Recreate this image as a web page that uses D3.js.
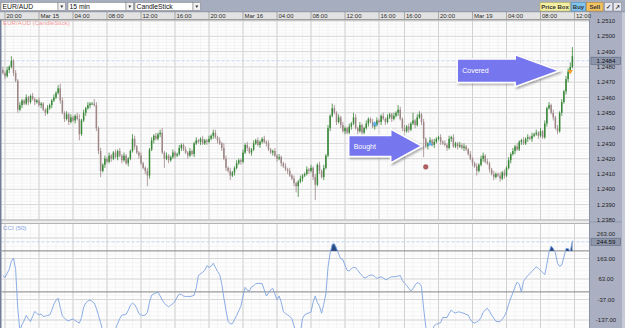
<!DOCTYPE html>
<html>
<head>
<meta charset="utf-8">
<script src="https://cdnjs.cloudflare.com/ajax/libs/d3/7.8.5/d3.min.js"></script>
<style>
  body { margin: 0; background: #fff; overflow: hidden; }
  svg { display: block; }
</style>
</head>
<body>
<div id="chart"></div>
<script>
// EUR/AUD 15 min candles, prices in pips above 1.2400 (open = previous close)
const firstOpen = 78;
const closes = [
  76,74,78,80,84,76,71,52,55,58, 56,60,57,61,59,57,58,55,56,52,
  50,53,55,58,60,63,66,58,50,46, 49,44,47,45,48,46,36,45,50,53,
  55,56,56,55,40,25,12,16,20,18, 22,20,24,21,25,22,19,22,17,20,
  25,33,28,24,22,17,14,12,9,26, 32,35,33,36,37,24,20,22,19,21,
  24,22,23,27,29,26,24,22,25,23, 30,32,31,33,30,32,31,33,35,37,
  34,32,30,27,20,14,12,9,11,14, 17,19,18,24,29,27,24,26,30,32,
  29,31,33,31,30,26,24,25,22,20, 21,17,15,13,12,9,7,4,2,5,
  7,9,10,13,12,14,8,3,16,12, 8,14,22,40,48,53,50,44,47,42,
  38,40,37,41,43,47,40,38,42,37, 40,43,46,44,41,42,45,44,48,46,
  44,47,49,46,48,50,52,46,40,38, 41,39,43,45,42,47,49,44,33,28,
  30,32,29,31,33,34,31,30,29,27, 33,34,28,30,28,29,27,28,26,23,
  20,17,15,12,16,20,22,18,17,13, 10,8,10,9,7,11,9,14,19,23,
  25,28,26,31,32,30,33,34,33,35, 36,37,35,38,34,43,53,55,50,47,
  40,38,50,57,64,72,77,80,87
];
// wick lengths in pips above the body top / below the body bottom
const wickHi = [
  2,1,2,1,3,1,2,1,2,1, 1,2,1,1,2,1,1,2,1,1, 1,2,1,1,2,1,2,3,2,1, 2,1,2,1,1,2,3,1,2,1,
  2,1,1,3,2,1,2,1,2,1, 2,1,1,2,1,2,1,2,1,1, 1,3,2,1,1,2,1,1,2,1, 2,1,2,1,2,3,1,2,1,1,
  2,1,1,2,1,1,2,1,2,1, 1,2,1,1,2,1,1,2,1,2, 2,1,2,1,3,2,1,2,1,1, 2,1,1,2,1,2,1,1,2,1,
  2,1,1,2,1,2,1,1,2,1, 2,1,1,2,1,2,1,2,1,1, 2,1,1,2,1,2,1,2,1,2, 1,2,1,2,1,3,2,1,2,1,
  2,1,1,2,1,3,2,1,2,1, 1,2,1,1,2,1,2,1,1,2, 1,2,1,1,2,1,3,2,1,2, 1,2,1,5,1,2,2,1,2,1,
  1,2,1,2,1,1,2,1,2,1, 2,1,2,1,1,2,1,2,1,1, 2,1,1,2,1,2,2,1,2,1, 1,2,1,1,2,1,2,1,2,1,
  2,1,2,1,1,2,1,2,1,2, 1,2,1,2,1,2,1,2,1,2, 1,2,1,2,1,2,2,3,6
];
const wickLo = [
  1,2,1,2,1,2,1,2,1,2, 1,1,2,1,1,2,1,1,2,1, 2,1,1,2,1,1,1,2,1,2, 1,2,1,1,2,1,4,1,1,2,
  1,2,1,1,2,2,4,1,2,1, 1,2,1,1,2,1,2,1,1,2, 1,1,2,1,2,1,1,2,7,2, 1,2,1,1,2,1,6,1,2,1,
  1,2,1,1,2,1,1,2,1,1, 2,1,1,2,1,1,2,1,1,2, 1,2,1,2,1,2,1,3,1,2, 1,1,2,1,1,2,1,2,1,1,
  1,2,1,1,2,1,1,2,1,2, 1,2,1,1,2,1,1,2,4,7, 1,2,1,1,2,1,2,10,1,2, 1,2,1,1,2,1,1,2,1,2,
  1,2,1,1,2,1,1,2,1,2, 1,1,2,1,1,2,1,1,2,1, 2,1,1,2,1,1,2,1,2,1, 1,2,1,1,2,1,1,2,12,1,
  2,1,1,2,1,1,2,1,1,2, 1,2,1,1,2,1,1,2,1,1, 1,2,1,3,1,1,2,1,1,2, 1,2,1,1,2,1,2,1,1,2,
  1,2,1,1,2,1,1,2,1,2, 1,1,2,1,1,1,2,1,1,2, 1,2,1,2,1,2,2,1,1
];
// CCI (50), one value per candle
const cci = [
  80,70,90,110,150,165,110,-80,-190,-160, -140,-115,-130,-145,-120,-95,-105,-112,-108,-120,
  -118,-115,-113,-90,-60,-40,-31,-75,-118,-128, -137,-142,-135,-132,-140,-146,-152,-125,-75,-54,
  -45,-39,-46,-54,-80,-115,-150,-190,-210,-220, -215,-205,-195,-180,-155,-130,-113,-112,-109,-90,
  -65,-55,-62,-80,-105,-113,-115,-113,-100,-50, -16,-10,-6,-2,-20,-40,-55,-65,-72,-65,
  -57,-45,-25,-10,-12,-20,-23,-22,-23,-20, -16,20,80,88,96,105,128,120,125,140,
  120,100,85,40,-30,-90,-145,-155,-155,-135, -115,-92,-70,-20,22,8,5,24,30,40,
  42,42,40,10,-20,-5,10,17,-10,-38, -20,-50,-96,-105,-112,-120,-130,-165,-200,-210,
  -200,-130,-112,-106,-103,-98,-50,-20,-52,-70, -104,-60,-10,120,190,233,235,214,185,162,
  157,130,105,102,114,120,118,105,92,80, 68,70,78,82,82,75,66,70,74,68,
  60,62,70,74,74,74,78,80,56,42, 32,18,5,15,34,45,42,26,-80,-170,
  -195,-210,-190,-165,-158,-154,-150,-124,-125,-125, -105,-88,-98,-103,-98,-98,-102,-104,-110,-113,
  -135,-147,-152,-147,-140,-125,-100,-87,-80,-95, -113,-128,-143,-145,-145,-133,-118,-96,-60,-30,
  -5,25,48,38,0,52,66,80,90,100, 112,122,115,105,95,84,135,195,224,212,
  190,140,125,131,170,212,212,198,250
];

const timeTickIdx = [1,17,33,49,65,81,97,113,129,145,161,177,189,205,221,237,253,269];
const timeTickLabels = ["20:00","Mar 15","04:00","08:00","12:00","16:00","20:00","Mar 16","04:00",
  "08:00","12:00","16:00","16:00","20:00","Mar 19","04:00","08:00","12:00"];
const priceTicks = [1.2380,1.2390,1.2400,1.2410,1.2420,1.2430,1.2440,1.2450,1.2460,1.2470,1.2480,1.2490,1.2500,1.2510];
const cciTicks = [-137,-37,63,163,263];
const cciLevels = [0, 200];
const lastPrice = 1.2484;
const lastCci = 244.59;

// trade markers: candle index, price in pips, kind
const tradeIdx = [175, 201, 199, 267];
const tradePips = [42.7, 29.6, 14.6, 77];
const tradeKind = ["buy", "buy", "stop", "cover"];

// annotation arrows: text and the point the tip sits on
const noteText = ["Bought", "Covered"];
const noteTipIdx = [197.1, 261.8];
const noteTipPips = [28.3, 77.5];

const W = 625, H = 328;
const plotL = 1.5, plotR = 589.5;
const mainTop = 20, mainBot = 220;
const cciTop = 223.5, cciBot = 328;
const upCol = "#3a873a", downCol = "#9e8686";
const font = "'Liberation Sans', Arial, sans-serif";

const svg = d3.select("#chart").append("svg")
  .attr("width", W).attr("height", H)
  .style("font-family", font);

const x = d3.scaleLinear().domain([0, 268]).range([2.875, 572.375]);
const y = d3.scaleLinear().domain([1.24, 1.25]).range([189.3, 36.3]);
const yc = d3.scaleLinear().domain([-137, 263]).range([320, 238]);
const px = p => 1.24 + p / 10000;

const defs = svg.append("defs");
defs.append("clipPath").attr("id", "mainClip").append("rect")
  .attr("x", plotL).attr("y", mainTop).attr("width", plotR - plotL).attr("height", mainBot - mainTop);
defs.append("clipPath").attr("id", "cciClip").append("rect")
  .attr("x", plotL).attr("y", cciTop).attr("width", plotR - plotL).attr("height", cciBot - cciTop);
defs.append("clipPath").attr("id", "fillClip").append("rect")
  .attr("x", plotL).attr("y", cciTop).attr("width", plotR - plotL).attr("height", yc(cciLevels[1]) - cciTop);
let shadow = defs.append("filter").attr("id", "shadow")
  .attr("x", "-20%").attr("y", "-30%").attr("width", "150%").attr("height", "170%");
shadow.append("feDropShadow").attr("dx", 1.5).attr("dy", 1.5).attr("stdDeviation", 1)
  .attr("flood-color", "#000").attr("flood-opacity", 0.35);

// backgrounds
svg.append("rect").attr("width", W).attr("height", H).attr("fill", "#fdfdfd");

// minor grid
let grid = svg.append("g");
let minorX = d3.range(-3, 272, 4);
[[mainTop, mainBot], [cciTop, cciBot]].forEach(([t, b]) => {
  grid.append("g").selectAll("line").data(minorX).join("line")
    .attr("x1", d => x(d)).attr("x2", d => x(d)).attr("y1", t).attr("y2", b)
    .attr("stroke", "#efefef").attr("stroke-width", 0.6);
});
grid.append("g").selectAll("line").data(d3.range(1.2378, 1.2512, 0.0002)).join("line")
  .attr("x1", plotL).attr("x2", plotR).attr("y1", d => y(d)).attr("y2", d => y(d))
  .attr("stroke", "#f0f0f0").attr("stroke-width", 0.6);
grid.append("g").selectAll("line").data(d3.range(-177, 290, 20)).join("line")
  .attr("x1", plotL).attr("x2", plotR).attr("y1", d => yc(d)).attr("y2", d => yc(d))
  .attr("stroke", "#f0f0f0").attr("stroke-width", 0.6);

// major grid
[[mainTop, mainBot], [cciTop, cciBot]].forEach(([t, b]) => {
  grid.append("g").selectAll("line").data(timeTickIdx).join("line")
    .attr("x1", d => x(d)).attr("x2", d => x(d)).attr("y1", t).attr("y2", b)
    .attr("stroke", "#d2d2d2").attr("stroke-width", 1);
});
grid.append("g").selectAll("line").data(priceTicks).join("line")
  .attr("x1", plotL).attr("x2", plotR).attr("y1", d => y(d)).attr("y2", d => y(d))
  .attr("stroke", "#d8d8d8").attr("stroke-width", 1);
grid.append("g").selectAll("line").data(cciTicks).join("line")
  .attr("x1", plotL).attr("x2", plotR).attr("y1", d => yc(d)).attr("y2", d => yc(d))
  .attr("stroke", "#d8d8d8").attr("stroke-width", 1);

// last price dashed line
svg.append("line").attr("x1", plotL).attr("x2", plotR)
  .attr("y1", y(lastPrice)).attr("y2", y(lastPrice))
  .attr("stroke", "#b9d0f2").attr("stroke-dasharray", "3,2").attr("stroke-width", 0.8);

// candles
const candles = closes.map((c, i) => {
  const o = i ? closes[i - 1] : firstOpen;
  return { i, o, c, h: Math.max(o, c) + wickHi[i], l: Math.min(o, c) - wickLo[i] };
});
let cg = svg.append("g").attr("clip-path", "url(#mainClip)");
cg.selectAll("line").data(candles).join("line")
  .attr("x1", d => x(d.i)).attr("x2", d => x(d.i))
  .attr("y1", d => y(px(d.h))).attr("y2", d => y(px(d.l)))
  .attr("stroke", d => d.c >= d.o ? upCol : downCol).attr("stroke-width", 0.8);
cg.selectAll("rect").data(candles).join("rect")
  .attr("x", d => x(d.i) - 0.75).attr("width", 1.5)
  .attr("y", d => y(px(Math.max(d.o, d.c))))
  .attr("height", d => Math.max(0.8, Math.abs(y(px(d.o)) - y(px(d.c)))))
  .attr("fill", d => d.c >= d.o ? upCol : downCol);

// trade markers
tradeIdx.forEach((ti, k) => {
  let mx = x(ti), my = y(px(tradePips[k]));
  if (tradeKind[k] === "stop") {
    svg.append("circle").attr("cx", mx).attr("cy", my).attr("r", 2.4)
      .attr("fill", "#b26060").attr("stroke", "#8a4444").attr("stroke-width", 0.4);
  } else {
    svg.append("path").attr("d", d3.symbol(d3.symbolTriangle, 12)())
      .attr("transform", `translate(${mx},${my}) rotate(${tradeKind[k] === "cover" ? 180 : 0})`)
      .attr("fill", tradeKind[k] === "cover" ? "#f2a22c" : "#5ab0ee");
  }
});

// CCI panel
let ccg = svg.append("g").attr("clip-path", "url(#cciClip)");
ccg.selectAll("line.lvl").data(cciLevels).join("line")
  .attr("x1", plotL).attr("x2", plotR).attr("y1", d => yc(d)).attr("y2", d => yc(d))
  .attr("stroke", "#858585").attr("stroke-width", 1);
ccg.append("line").attr("x1", plotL).attr("x2", plotR)
  .attr("y1", yc(lastCci)).attr("y2", yc(lastCci))
  .attr("stroke", "#b9d0f2").attr("stroke-dasharray", "3,2").attr("stroke-width", 0.8);
ccg.append("path").datum(cci)
  .attr("clip-path", "url(#fillClip)")
  .attr("d", d3.area().x((d, i) => x(i)).y0(yc(cciLevels[1])).y1(d => yc(d)))
  .attr("fill", "#2b4c86");
ccg.append("path").datum(cci)
  .attr("d", d3.line().x((d, i) => x(i)).y(d => yc(d)))
  .attr("fill", "none").attr("stroke", "#7ea4e2").attr("stroke-width", 0.9);

// panel separators
svg.append("rect").attr("x", 0).attr("y", mainBot).attr("width", plotR).attr("height", cciTop - mainBot)
  .attr("fill", "#ececec");
[mainBot, cciTop].forEach(v => svg.append("line").attr("x1", 0).attr("x2", plotR)
  .attr("y1", v).attr("y2", v).attr("stroke", "#b4b4b4").attr("stroke-width", 1));

svg.append("text").attr("x", 3).attr("y", 25).attr("font-size", 6.2).attr("fill", "#f29a9a")
  .text("EUR/AUD (CandleStick)");
svg.append("text").attr("x", 3).attr("y", 230).attr("font-size", 6.2).attr("fill", "#84a6de")
  .text("CCI (50)");

// annotation arrows
const arrowShape = [
  { headLen: 31, bodyLen: 42, bodyH: 10.5, headH: 17 },
  { headLen: 44, bodyLen: 58, bodyH: 11.7, headH: 16 }
];
noteText.forEach((t, k) => {
  let tx = x(noteTipIdx[k]), ty = y(px(noteTipPips[k])), s = arrowShape[k];
  let bx = tx - s.headLen, lx = bx - s.bodyLen;
  let pts = [[tx, ty], [bx, ty - s.headH], [bx, ty - s.bodyH], [lx, ty - s.bodyH],
    [lx, ty + s.bodyH], [bx, ty + s.bodyH], [bx, ty + s.headH]];
  svg.append("path").attr("d", "M" + pts.join("L") + "Z")
    .attr("fill", "#7676ee").attr("stroke", "#fff").attr("stroke-width", 1.5)
    .attr("stroke-linejoin", "miter").attr("filter", "url(#shadow)");
  svg.append("text").attr("x", lx + 5).attr("y", ty + 2.5)
    .attr("font-size", 7).attr("fill", "#fff").text(t);
});

// left edge
svg.append("rect").attr("x", 0).attr("y", 12).attr("width", 1.5).attr("height", H - 12).attr("fill", "#737c96");

// right axis panel
svg.append("rect").attr("x", plotR).attr("y", 12).attr("width", W - plotR).attr("height", H - 12)
  .attr("fill", "#aab0c2");
svg.append("line").attr("x1", plotR).attr("x2", plotR).attr("y1", 12).attr("y2", H)
  .attr("stroke", "#8c93a6").attr("stroke-width", 1);
svg.append("rect").attr("x", 622).attr("y", 12).attr("width", 3).attr("height", H - 12).attr("fill", "#c6cad6");
svg.append("line").attr("x1", plotR).attr("x2", 622).attr("y1", cciTop - 1.5).attr("y2", cciTop - 1.5)
  .attr("stroke", "#8c93a6").attr("stroke-width", 0.8);

let ax = svg.append("g").attr("font-size", 6).attr("fill", "#1e1e1e").attr("text-anchor", "middle");
ax.selectAll("text.p").data(priceTicks.filter(d => y(d) < mainBot + 1)).join("text")
  .attr("x", 606).attr("y", d => y(d) + 2.1).text(d => d.toFixed(4));
// the top CCI label sits just above the last-value box, as in the reference
ax.selectAll("text.c").data(cciTicks).join("text")
  .attr("x", 606).attr("y", d => (d === cciTicks[cciTicks.length - 1] ? yc(d) - 4.4 : yc(d)) + 2.1)
  .text(d => d.toFixed(2));

[[y(lastPrice), lastPrice.toFixed(4)], [yc(lastCci), lastCci.toFixed(2)]].forEach(([v, t]) => {
  svg.append("rect").attr("x", 591).attr("y", v - 3.6).attr("width", 29.5).attr("height", 7.2)
    .attr("fill", "#8e96ac").attr("stroke", "#5d6579").attr("stroke-width", 0.6);
  svg.append("text").attr("x", 606).attr("y", v + 2.2).attr("font-size", 6.2)
    .attr("text-anchor", "middle").attr("fill", "#111").text(t);
});

// time axis row
svg.append("rect").attr("x", 0).attr("y", 12).attr("width", plotR).attr("height", 7.8).attr("fill", "#e2e2e2");
svg.append("line").attr("x1", 0).attr("x2", plotR).attr("y1", 19.8).attr("y2", 19.8)
  .attr("stroke", "#7e7e7e").attr("stroke-width", 1);
let tg = svg.append("g");
tg.selectAll("line").data(timeTickIdx.filter(d => x(d) < plotR)).join("line")
  .attr("x1", d => x(d)).attr("x2", d => x(d)).attr("y1", 12).attr("y2", 19.5)
  .attr("stroke", "#9a9a9a").attr("stroke-width", 0.8);
tg.selectAll("text").data(timeTickIdx).join("text")
  .attr("x", d => x(d) + 1.5).attr("y", 18.2).attr("font-size", 6).attr("fill", "#2a2a2a")
  .text((d, i) => timeTickLabels[i]);

// toolbar
svg.append("rect").attr("width", W).attr("height", 12).attr("fill", "#a6adbe");
svg.append("line").attr("x1", 0).attr("x2", W).attr("y1", 11.8).attr("y2", 11.8)
  .attr("stroke", "#7b8295").attr("stroke-width", 0.6);
const drops = [["EUR/AUD", 1, 57], ["15 min", 68, 58], ["CandleStick", 135, 58]];
drops.forEach(([t, x0, w]) => {
  svg.append("rect").attr("x", x0).attr("y", 2.5).attr("width", w).attr("height", 8)
    .attr("fill", "#fff").attr("stroke", "#7a7a7a").attr("stroke-width", 0.5);
  svg.append("rect").attr("x", x0 + w).attr("y", 2.5).attr("width", 7.5).attr("height", 8)
    .attr("fill", "#f2f2f2").attr("stroke", "#7a7a7a").attr("stroke-width", 0.5);
  svg.append("path").attr("d", `M${x0 + w + 2.3},5.5L${x0 + w + 5.3},5.5L${x0 + w + 3.8},8Z`).attr("fill", "#333");
  svg.append("text").attr("x", x0 + 1.5).attr("y", 9).attr("font-size", 6.8).attr("fill", "#111").text(t);
});
const btns = [["Price Box", 540, 30, "#f5efa2", "#b3aa5a"], ["Buy", 571.5, 14, "#7fc4ef", "#5a8fb8"],
  ["Sell", 586.5, 16.5, "#f3c363", "#b78a30"], ["✓", 604.5, 8, "#e6e7ee", "#8a8a95"], ["↗", 613.5, 8, "#e6e7ee", "#8a8a95"]];
btns.forEach(([t, x0, w, f, s]) => {
  svg.append("rect").attr("x", x0).attr("y", 2.5).attr("width", w).attr("height", 8.5)
    .attr("fill", f).attr("stroke", s).attr("stroke-width", 0.6);
  svg.append("text").attr("x", x0 + w / 2).attr("y", 9).attr("font-size", 6).attr("font-weight", "bold")
    .attr("text-anchor", "middle").attr("fill", "#333").text(t);
});
</script>
</body>
</html>
